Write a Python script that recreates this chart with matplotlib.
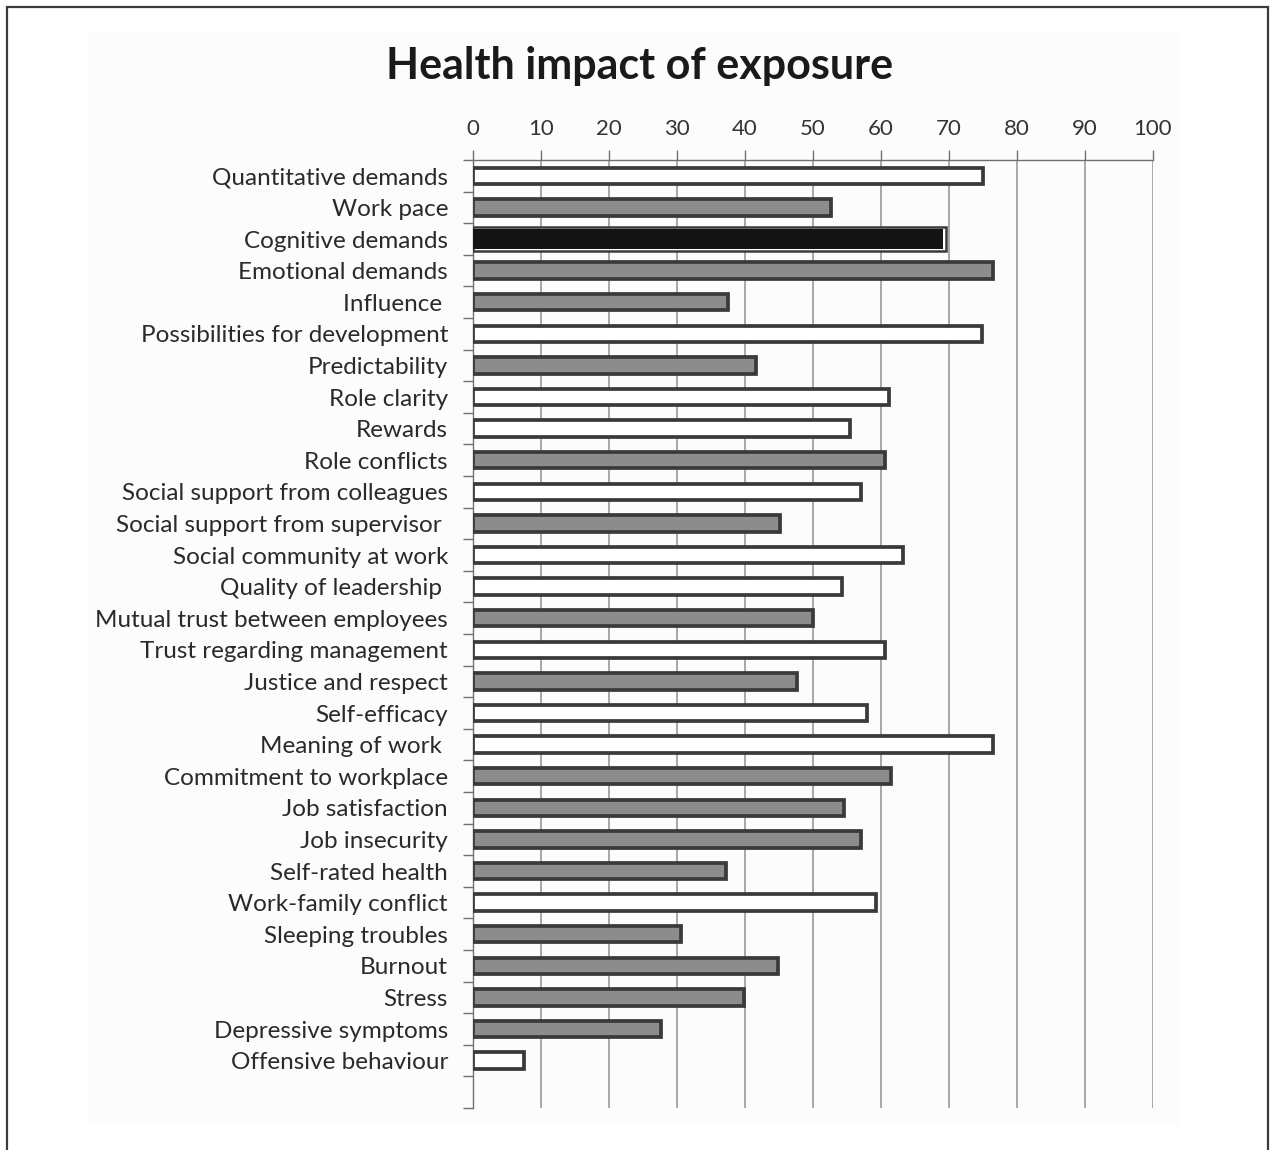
import matplotlib
matplotlib.use("Agg")
import matplotlib.pyplot as plt
from matplotlib.patches import Rectangle
import numpy as np

plt.rcParams['font.family'] = ['Lato', 'DejaVu Sans']

categories = [
    "Quantitative demands", "Work pace", "Cognitive demands", "Emotional demands",
    "Influence ", "Possibilities for development", "Predictability", "Role clarity",
    "Rewards", "Role conflicts", "Social support from colleagues",
    "Social support from supervisor ", "Social community at work",
    "Quality of leadership ", "Mutual trust between employees",
    "Trust regarding management", "Justice and respect", "Self-efficacy",
    "Meaning of work ", "Commitment to workplace", "Job satisfaction",
    "Job insecurity", "Self-rated health", "Work-family conflict",
    "Sleeping troubles", "Burnout", "Stress", "Depressive symptoms",
    "Offensive behaviour",
]
values = [
    75.0, 52.6, 69.5, 76.5, 37.5, 74.8, 41.6, 61.2, 55.5, 60.6, 57.1, 45.2,
    63.3, 54.3, 50.0, 60.6, 47.7, 58.0, 76.4, 61.5, 54.6, 57.1, 37.2, 59.2,
    30.6, 44.8, 39.9, 27.7, 7.5,
]
# w = white, g = gray, k = black
fill_codes = ['w', 'g', 'k', 'g', 'g', 'w', 'g', 'w', 'w', 'g', 'w', 'g', 'w',
              'w', 'g', 'w', 'g', 'w', 'w', 'g', 'g', 'g', 'g', 'w', 'g', 'g',
              'g', 'g', 'w']
x_ticks = list(range(0, 101, 10))

palette = {'w': '#ffffff', 'g': '#8c8c8c', 'k': '#141414'}
edge = '#3a3a3a'

W, H = 1271, 1150
fig = plt.figure(figsize=(W / 100, H / 100), dpi=100)
fig.patch.set_facecolor('white')

# outer frame and faint panel
fig.add_artist(Rectangle((7 / W, -0.01), (1268 - 7) / W, (H - 7) / H + 0.01,
                         transform=fig.transFigure, fill=False,
                         edgecolor='#3a3a3a', linewidth=1.6))
fig.add_artist(Rectangle((88 / W, 1 - 1125 / H), (1180 - 88) / W, (1125 - 32) / H,
                         transform=fig.transFigure, facecolor='#fcfcfc',
                         edgecolor='none', zorder=0))

ax = fig.add_axes([473 / W, 1 - 1108 / H, 680 / W, 948 / H])
ax.set_facecolor('none')

n_slots = len(categories) + 1
y = np.arange(len(categories))

ax.set_xlim(0, 100)
ax.set_ylim(n_slots - 0.5, -0.5)

bar_h = 0.52
for yi, v, c in zip(y, values, fill_codes):
    if c == 'k':
        ax.barh(yi, v, height=0.78, color='white', edgecolor=edge,
                linewidth=1.8, zorder=3)
        ax.barh(yi, v - 0.35, height=0.62, color=palette[c], edgecolor='none',
                zorder=4)
    else:
        ax.barh(yi, v, height=bar_h, color=palette[c], edgecolor=edge,
                linewidth=2.7, zorder=3)

# vertical gridlines
for xt in x_ticks[1:]:
    ax.axvline(xt, color='#9a9a9a', linewidth=1.2, zorder=1)

ax.xaxis.tick_top()
ax.set_xticks(x_ticks)
ax.set_xticklabels([str(t) for t in x_ticks])
ax.tick_params(axis='x', direction='out', length=7, width=1.0, color='#707070',
               labelsize=16, labelcolor='#333333', pad=8)

ax.set_yticks(y)
ax.set_yticklabels(categories)
ax.tick_params(axis='y', which='major', length=0, labelsize=17.5,
               labelcolor='#2a2a2a', pad=18)
ax.set_yticks(np.arange(n_slots + 1) - 0.5, minor=True)
ax.tick_params(axis='y', which='minor', direction='out', length=7, width=1.0,
               color='#707070')

for s in ['right', 'bottom']:
    ax.spines[s].set_visible(False)
ax.spines['top'].set_color('#707070')
ax.spines['left'].set_color('#707070')
ax.spines['top'].set_linewidth(1.0)
ax.spines['left'].set_linewidth(1.0)
ax.spines['top'].set_zorder(5)

fig.text(640 / W, 1 - 66 / H, "Health impact of exposure", ha='center',
         va='center', fontsize=31, fontweight='bold', color='#1a1a1a')

fig.savefig("out.png", dpi=100, facecolor='white')
